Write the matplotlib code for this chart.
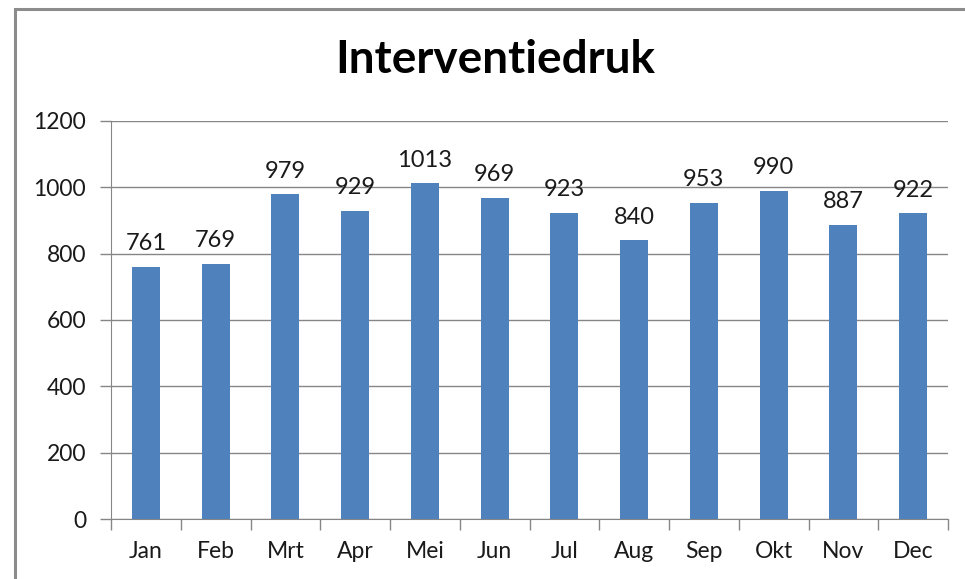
import matplotlib.pyplot as plt
from matplotlib.patches import Rectangle

months = ['Jan', 'Feb', 'Mrt', 'Apr', 'Mei', 'Jun', 'Jul', 'Aug', 'Sep', 'Okt', 'Nov', 'Dec']
values = [761, 769, 979, 929, 1013, 969, 923, 840, 953, 990, 887, 922]
yticks = [0, 200, 400, 600, 800, 1000, 1200]

plt.rcParams['font.family'] = ['Lato', 'DejaVu Sans']

W, H = 965, 579
fig = plt.figure(figsize=(W / 100, H / 100), dpi=100)

# chart frame, cut off at right and bottom like the screenshot
fig.patches.append(Rectangle((15 / W, -0.1), 1.2, 1 - 9 / H + 0.1, transform=fig.transFigure,
                             fill=False, edgecolor='#8c8c8c', linewidth=2.2))

ax = fig.add_axes([111 / W, 1 - 519 / H, (948 - 111) / W, (519 - 121) / H])
x = range(len(months))
bars = ax.bar(x, values, width=0.4, color='#4F81BD', zorder=3)
for xi, v in zip(x, values):
    ax.annotate(str(v), (xi, v), xytext=(0, 9), textcoords='offset points',
                ha='center', va='bottom', fontsize=17, color='#1a1a1a')

ax.set_xlim(-0.5, len(months) - 0.5)
ax.set_ylim(0, 1200)
ax.set_yticks(yticks)
ax.set_xticks(list(x))
ax.set_xticklabels(months)
ax.set_xticks([i - 0.5 for i in range(len(months) + 1)], minor=True)
ax.tick_params(axis='x', which='major', length=0, labelsize=16.5, pad=16, labelcolor='#1a1a1a')
ax.tick_params(axis='x', which='minor', length=8, color='#868686', width=1)
ax.tick_params(axis='y', length=8, color='#868686', width=1, labelsize=16.5, pad=10,
               labelcolor='#1a1a1a')
ax.yaxis.grid(True, color='#868686', linewidth=1, zorder=0)

for s in ['top', 'right']:
    ax.spines[s].set_visible(False)
for s in ['left', 'bottom']:
    ax.spines[s].set_color('#868686')

fig.text(495 / W, 1 - 60 / H, 'Interventiedruk', ha='center', va='center',
         fontsize=33, fontweight='bold')

fig.savefig('out.png', dpi=100)
